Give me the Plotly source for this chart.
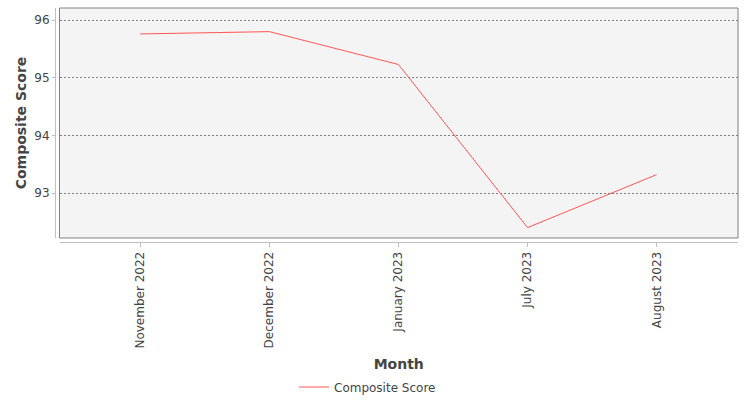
import plotly.graph_objects as go

# data
months = ["November 2022", "December 2022", "January 2023", "July 2023", "August 2023"]
composite_score = [95.76, 95.80, 95.23, 92.40, 93.32]

FONT = "DejaVu Sans"
TEXT = "#444444"

fig = go.Figure()

fig.add_trace(go.Scatter(
    x=months,
    y=composite_score,
    mode="lines",
    name="Composite Score",
    line=dict(color="#ff5555", width=1),
))

fig.update_layout(
    width=750,
    height=400,
    margin=dict(l=55, r=12, t=8, b=158, autoexpand=False),
    paper_bgcolor="white",
    plot_bgcolor="#f4f4f4",
    font=dict(family=FONT, size=12, color=TEXT),
    showlegend=True,
    legend=dict(
        orientation="h",
        xref="container", yref="container",
        x=0.49, xanchor="center",
        y=0.0325, yanchor="middle",
        font=dict(size=12, color=TEXT),
        bgcolor="rgba(0,0,0,0)",
    ),
    # plot frame
    shapes=[dict(
        type="rect", xref="x domain", yref="y domain",
        x0=0, x1=1, y0=0, y1=1,
        line=dict(color="#808080", width=1),
        layer="above",
    )],
)

fig.update_xaxes(
    type="category",
    range=[-0.625, 4.63],
    domain=[0.0066, 1],
    anchor="free",
    position=0,
    showline=True,
    linecolor="#c0c0c0",
    linewidth=1,
    showgrid=False,
    zeroline=False,
    ticks="outside",
    ticklen=4,
    tickcolor="#c0c0c0",
    tickangle=-90,
    tickfont=dict(size=12, color=TEXT),
    title=dict(text="<b>Month</b>", font=dict(size=14, color=TEXT), standoff=12),
)

fig.update_yaxes(
    range=[92.22, 96.21],
    domain=[0.0171, 1],
    anchor="free",
    position=0,
    showline=True,
    linecolor="#c0c0c0",
    linewidth=1,
    tickvals=[93, 94, 95, 96],
    ticks="outside",
    ticklen=3,
    tickcolor="#c0c0c0",
    tickfont=dict(size=12, color=TEXT),
    showgrid=True,
    gridcolor="#808080",
    griddash="2px,2px",
    gridwidth=1,
    zeroline=False,
    title=dict(text="<b>Composite Score</b>", font=dict(size=14, color=TEXT), standoff=3),
)

# drop the default page margin so the figure sits at the window corner
fig.write_html("out.html", config={"displayModeBar": False},
               post_script="document.body.style.margin='0';")
